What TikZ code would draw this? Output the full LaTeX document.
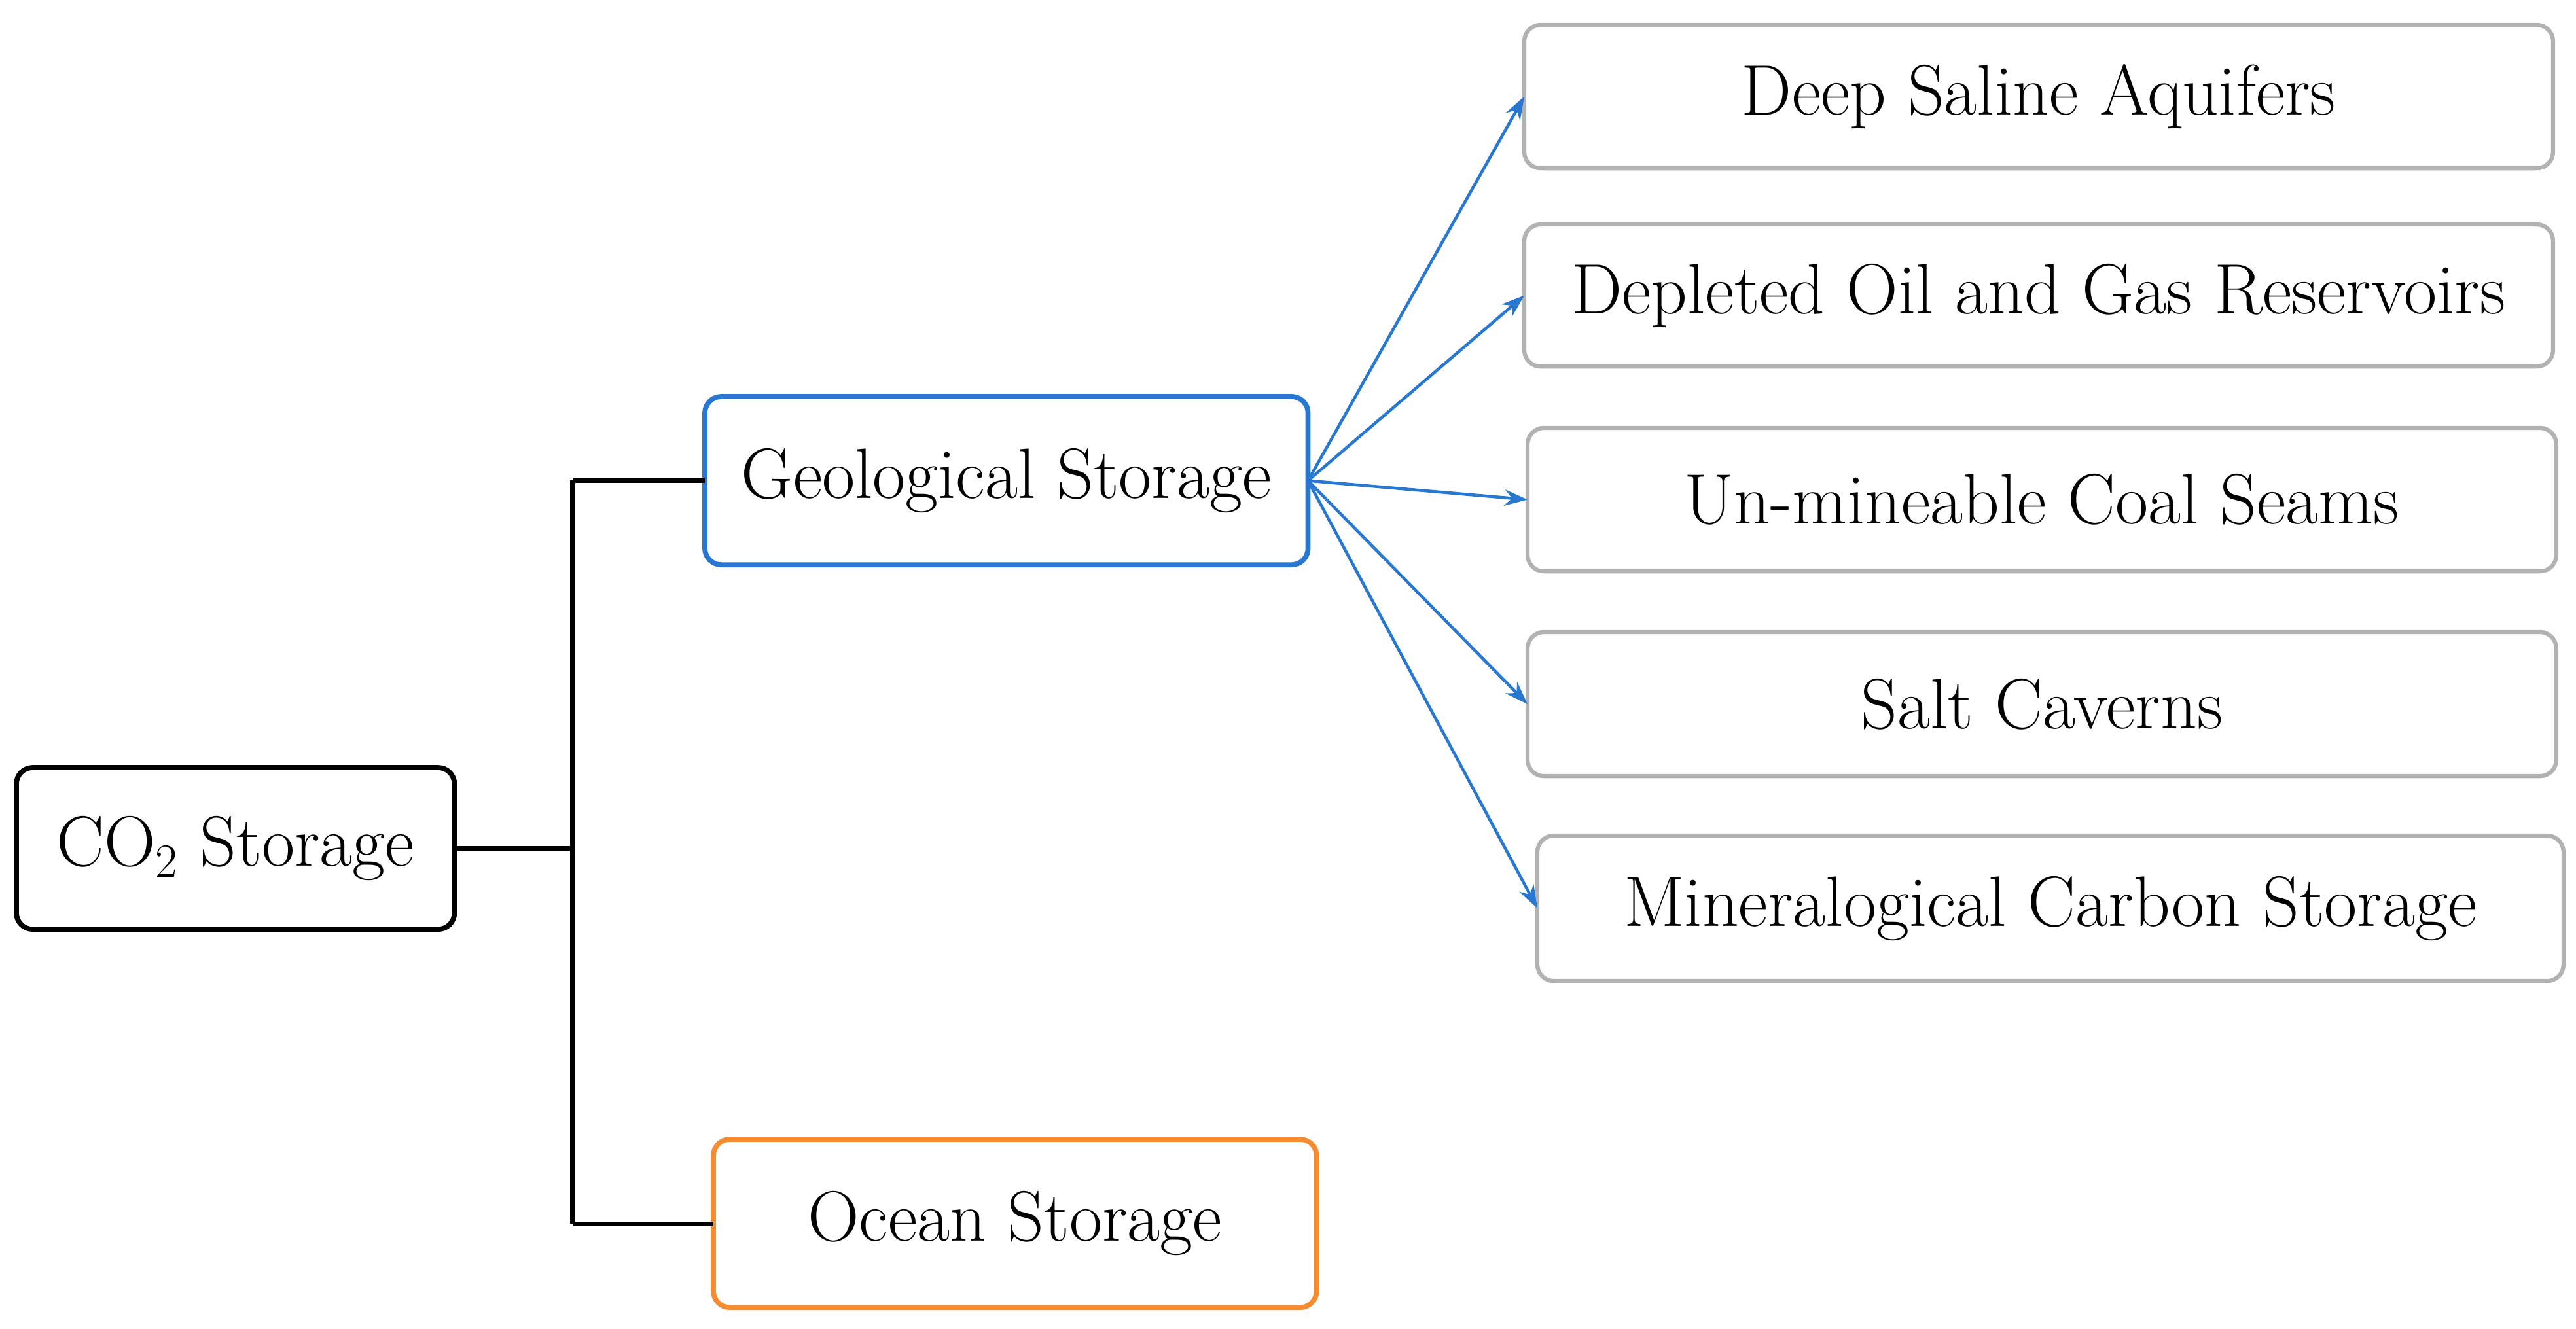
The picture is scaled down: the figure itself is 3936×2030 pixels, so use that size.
\documentclass[tikz,border=0pt]{standalone}
\usetikzlibrary{arrows.meta}
\begin{document}
\begin{tikzpicture}[x=0.01cm,y=-0.01cm,
 box/.style={draw,rounded corners=0.25cm,line width=2.2pt,outer sep=0pt,font=\fontsize{31}{36}\selectfont},
 leaf/.style={draw=gray!60,rounded corners=0.25cm,line width=1.8pt,outer sep=0pt,font=\fontsize{31}{36}\selectfont},
 arr/.style={draw={rgb,255:red,40;green,120;blue,210},line width=1.3pt,-{Stealth[length=10pt,width=7pt]}},
 tree/.style={line width=2pt}]
\useasboundingbox (0,0) rectangle (3936,2030);
\node[box,draw=black,minimum width=6.69cm,minimum height=2.47cm,anchor=north west] (co2) at (25,1173) {CO$_2$ Storage};
\node[box,draw={rgb,255:red,40;green,120;blue,210},minimum width=9.21cm,minimum height=2.57cm,anchor=north west] (geo) at (1077,606) {Geological Storage};
\node[box,draw={rgb,255:red,245;green,140;blue,50},minimum width=9.21cm,minimum height=2.57cm,anchor=north west] (oce) at (1090,1741) {Ocean Storage};
\node[leaf,minimum width=15.71cm,minimum height=2.19cm,anchor=north west] (l1) at (2329,38) {Deep Saline Aquifers};
\node[leaf,minimum width=15.71cm,minimum height=2.17cm,anchor=north west] (l2) at (2329,343) {Depleted Oil and Gas Reservoirs};
\node[leaf,minimum width=15.71cm,minimum height=2.19cm,anchor=north west] (l3) at (2334,654) {Un-mineable Coal Seams};
\node[leaf,minimum width=15.71cm,minimum height=2.2cm,anchor=north west] (l4) at (2334,966) {Salt Caverns};
\node[leaf,minimum width=15.67cm,minimum height=2.22cm,anchor=north west] (l5) at (2349,1277) {Mineralogical Carbon Storage};
\coordinate (tt) at (875,734);
\coordinate (tb) at (875,1870);
\draw[tree] (co2.east) -- (co2.east -| tt);
\draw[tree] (tt) -- (tb);
\draw[tree] (tt) -- (geo.west|-tt);
\draw[tree] (tb) -- (oce.west|-tb);
\foreach \n in {l1,l2,l3,l4,l5}{\draw[arr] (geo.east) -- (\n.west);}
\end{tikzpicture}
\end{document}
